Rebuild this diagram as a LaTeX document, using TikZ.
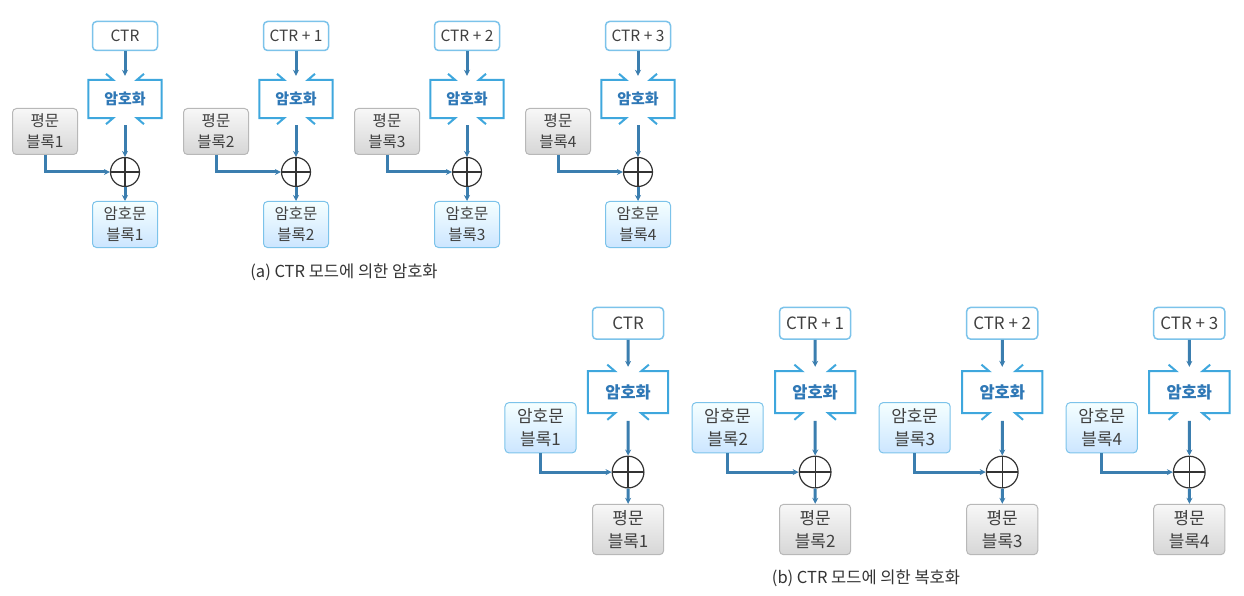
\documentclass[tikz,border=0pt]{standalone}
\usepackage{fontspec}
\setmainfont{Noto Sans CJK KR}
\usetikzlibrary{calc,positioning,arrows.meta}

\definecolor{boxline}{HTML}{7CC3EA}
\definecolor{encblue}{HTML}{3FA7DD}
\definecolor{enctext}{HTML}{2F78B6}
\definecolor{flowblue}{HTML}{3B7EAF}
\definecolor{grayline}{HTML}{B8B8B8}

\begin{document}
\begin{tikzpicture}[
    x=1pt,y=-1pt,
    txt/.style={font=\fontsize{15.5}{21}\selectfont},
    ctrbox/.style={txt,draw=boxline,line width=1.5pt,rounded corners=4pt,fill=white,
        minimum width=65pt,minimum height=29pt,inner sep=0pt,text=black!75},
    encbox/.style={txt,minimum width=73pt,minimum height=38pt,inner sep=0pt,
        text=enctext,font=\fontsize{15}{21}\selectfont\bfseries},
    encline/.style={draw=encblue,line width=2pt},
    plainblk/.style={txt,draw=grayline,line width=1pt,rounded corners=4pt,
        top color=gray!6,bottom color=gray!32,minimum width=65pt,minimum height=46pt,
        align=center,inner sep=0pt,text=black!75},
    cipherblk/.style={plainblk,draw=boxline,top color=cyan!4,bottom color=cyan!50!blue!20},
    xorop/.style={circle,draw=black!80,line width=1.2pt,minimum size=29pt,inner sep=0pt,
        path picture={
          \draw[black!80,line width=1.2pt]
            (path picture bounding box.north) -- (path picture bounding box.south)
            (path picture bounding box.west) -- (path picture bounding box.east);
        }},
    flow/.style={draw=flowblue,line width=3pt,-{Stealth[length=6pt,width=6pt]}},
    caption/.style={font=\fontsize{16.5}{20}\selectfont,text=black!80}
]
  \useasboundingbox (0,0) rectangle (1244,596);

  % (a) encryption
  \foreach \i/\ctr in {1/CTR, 2/CTR + 1, 3/CTR + 2, 4/CTR + 3} {
    \pgfmathsetmacro\cx{125+171*(\i-1)}
    \node[ctrbox] (a-ctr\i) at (\cx,36) {\ctr};
    \node[encbox] (a-enc\i) at (\cx,99) {암호화};
    \node[xorop] (a-xor\i) at (\cx,172) {};
    \node[plainblk] (a-pt\i) at ({\cx-80},131.5) {평문\\블록\i};
    \node[cipherblk] (a-ct\i) at (\cx,224.5) {암호문\\블록\i};

    \draw[encline] ($(a-enc\i.north)+(-19,-6)$) -- ($(a-enc\i.north)+(-12,0)$)
      -- (a-enc\i.north west) -- (a-enc\i.south west)
      -- ($(a-enc\i.south)+(-12,0)$) -- ($(a-enc\i.south)+(-19,6)$);
    \draw[encline] ($(a-enc\i.north)+(19,-6)$) -- ($(a-enc\i.north)+(12,0)$)
      -- (a-enc\i.north east) -- (a-enc\i.south east)
      -- ($(a-enc\i.south)+(12,0)$) -- ($(a-enc\i.south)+(19,6)$);

    \draw[flow] (a-ctr\i) -- ([yshift=4pt]a-enc\i.north);
    \draw[flow] ([yshift=-7pt]a-enc\i.south) -- (a-xor\i);
    \draw[flow] (a-pt\i) |- (a-xor\i);
    \draw[flow] (a-xor\i) -- (a-ct\i);
  }
  \node[caption] (cap-a) at (344,272) {(a) CTR 모드에 의한 암호화};

  % (b) decryption
  \begin{scope}[shift={(491.3,283.9)},scale=1.094,transform shape]
    \foreach \i/\ctr in {1/CTR, 2/CTR + 1, 3/CTR + 2, 4/CTR + 3} {
      \pgfmathsetmacro\cx{125+171*(\i-1)}
      \node[ctrbox] (b-ctr\i) at (\cx,36) {\ctr};
      \node[encbox] (b-enc\i) at (\cx,99) {암호화};
      \node[xorop] (b-xor\i) at (\cx,172) {};
      \node[cipherblk] (b-ct\i) at ({\cx-80},131.5) {암호문\\블록\i};
      \node[plainblk] (b-pt\i) at (\cx,224.5) {평문\\블록\i};

      \draw[encline] ($(b-enc\i.north)+(-19,-6)$) -- ($(b-enc\i.north)+(-12,0)$)
        -- (b-enc\i.north west) -- (b-enc\i.south west)
        -- ($(b-enc\i.south)+(-12,0)$) -- ($(b-enc\i.south)+(-19,6)$);
      \draw[encline] ($(b-enc\i.north)+(19,-6)$) -- ($(b-enc\i.north)+(12,0)$)
        -- (b-enc\i.north east) -- (b-enc\i.south east)
        -- ($(b-enc\i.south)+(12,0)$) -- ($(b-enc\i.south)+(19,6)$);

      \draw[flow] (b-ctr\i) -- ([yshift=4pt]b-enc\i.north);
      \draw[flow] ([yshift=-7pt]b-enc\i.south) -- (b-xor\i);
      \draw[flow] (b-ct\i) |- (b-xor\i);
      \draw[flow] (b-xor\i) -- (b-pt\i);
    }
  \end{scope}
  \node[caption] (cap-b) at (866,578) {(b) CTR 모드에 의한 복호화};
\end{tikzpicture}
\end{document}
